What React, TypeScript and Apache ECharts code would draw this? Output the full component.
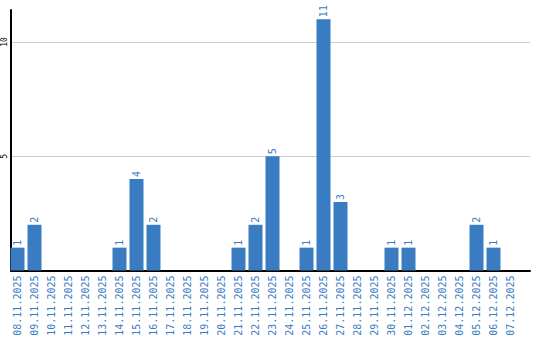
import React, { useEffect, useRef } from "react";
import * as echarts from "echarts";

const categories: string[] = [
  "08.11.2025", "09.11.2025", "10.11.2025", "11.11.2025", "12.11.2025", "13.11.2025",
  "14.11.2025", "15.11.2025", "16.11.2025", "17.11.2025", "18.11.2025", "19.11.2025",
  "20.11.2025", "21.11.2025", "22.11.2025", "23.11.2025", "24.11.2025", "25.11.2025",
  "26.11.2025", "27.11.2025", "28.11.2025", "29.11.2025", "30.11.2025", "01.12.2025",
  "02.12.2025", "03.12.2025", "04.12.2025", "05.12.2025", "06.12.2025", "07.12.2025",
];
const counts: number[] = [
  1, 2, 0, 0, 0, 0,
  1, 4, 2, 0, 0, 0,
  0, 1, 2, 5, 0, 1,
  11, 3, 0, 0, 1, 1,
  0, 0, 0, 2, 1, 0,
];
const yMax = 11.4;
const yInterval = 5;

const BLUE = "#3a7cc2";
const MONO = "'DejaVu Sans Mono', monospace";

export default function App() {
  const ref = useRef<HTMLDivElement>(null);
  useEffect(() => {
    if (!ref.current) return;
    const chart = echarts.init(ref.current, null, { renderer: "svg" });
    chart.setOption({
      animation: false,
      grid: [
        { left: 9, top: 10, width: 510, bottom: 69.5, containLabel: false },
        { left: 9, top: 10, width: 521, bottom: 69.5, containLabel: false },
      ],
      xAxis: [
        {
          type: "category",
          gridIndex: 0,
          data: categories,
          axisLine: { show: false },
          axisTick: { show: false },
          axisLabel: {
            interval: 0,
            rotate: 90,
            margin: 5,
            color: BLUE,
            fontFamily: MONO,
            fontSize: 10,
          },
        },
        {
          type: "value",
          gridIndex: 1,
          min: 0,
          max: 1,
          axisLine: { show: true, lineStyle: { color: "#000", width: 2 } },
          axisTick: { show: false },
          axisLabel: { show: false },
          splitLine: { show: false },
        },
      ],
      yAxis: [
        {
          type: "value",
          gridIndex: 0,
          min: 0,
          max: yMax,
          interval: yInterval,
          axisLine: { show: false },
          axisTick: { show: false },
          axisLabel: { show: false },
          splitLine: { show: false },
        },
        {
          type: "value",
          gridIndex: 1,
          min: 0,
          max: yMax,
          interval: yInterval,
          axisLine: { show: true, lineStyle: { color: "#000", width: 2 } },
          axisTick: { show: false },
          axisLabel: {
            rotate: 90,
            margin: 3,
            color: "#000",
            fontFamily: MONO,
            fontSize: 8,
            showMinLabel: false,
            showMaxLabel: false,
            formatter: (v: number) => (v === 0 || v === yMax ? "" : String(v)),
          },
          splitLine: {
            show: true,
            showMinLine: false,
            showMaxLine: false,
            lineStyle: { color: "#cccccc", width: 1 },
          },
        },
      ],
      series: [
        {
          type: "bar",
          xAxisIndex: 0,
          yAxisIndex: 0,
          data: counts,
          barWidth: 14,
          itemStyle: { color: BLUE },
          z: 5,
          label: {
            show: true,
            position: "top",
            rotate: 90,
            align: "left",
            verticalAlign: "middle",
            distance: 2,
            color: BLUE,
            fontFamily: MONO,
            fontSize: 10,
            formatter: (p: any) => (p.value === 0 ? "" : String(p.value)),
          },
        },
      ],
    });
    return () => chart.dispose();
  }, []);
  return <div ref={ref} style={{ width: 540, height: 340, position: "absolute", left: 0, top: 0 }} />;
}
